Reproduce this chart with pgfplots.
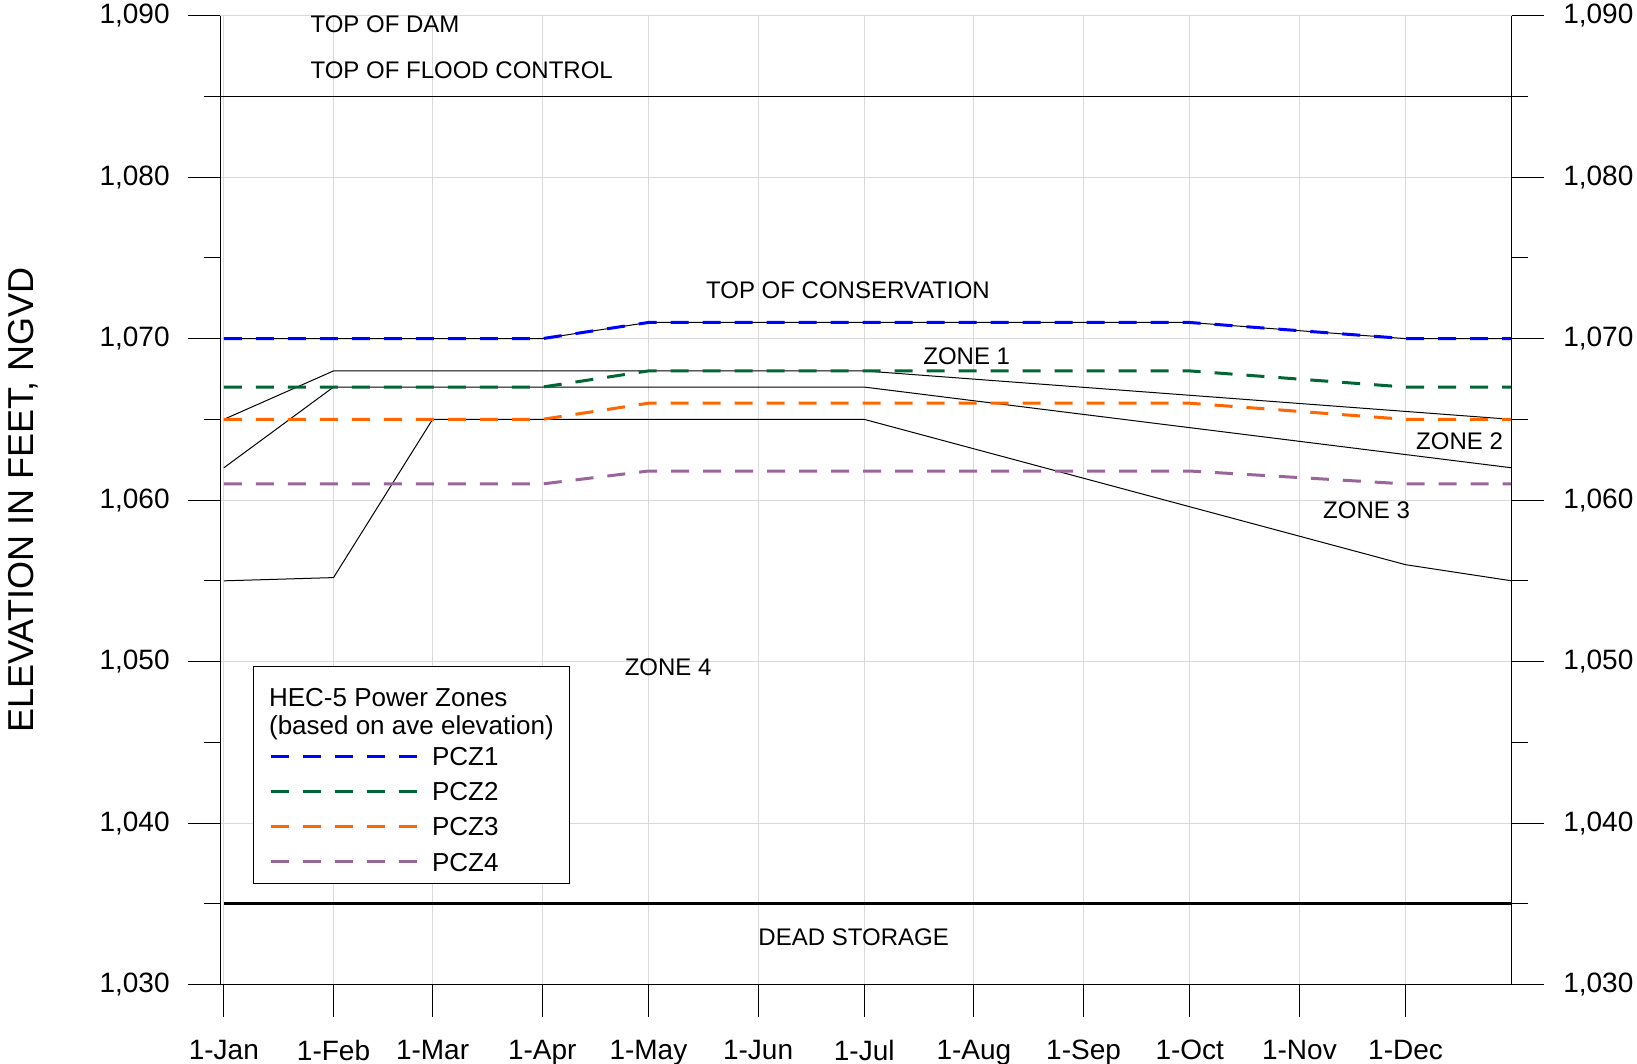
\documentclass[border=0pt]{standalone}
\usepackage{pgfplots}
\pgfplotsset{compat=1.18}
\usepackage{fontspec}
\setmainfont{Liberation Sans}

\definecolor{pczblue}{RGB}{0,0,255}
\definecolor{pczgreen}{RGB}{0,102,51}
\definecolor{pczorange}{RGB}{255,102,0}
\definecolor{pczpurple}{RGB}{153,102,153}
\definecolor{gridgray}{RGB}{217,217,217}

\begin{document}
\begin{tikzpicture}
\useasboundingbox (-110.15pt,-39.75pt) rectangle (708.35pt,492.25pt);
\pgfplotsset{
  elevbase/.style={
    scale only axis, width=645.7pt, height=484.4pt,
    at={(0,0)}, anchor=south west,
    xmin=0, xmax=365, ymin=1030, ymax=1090,
    ytick={1030,1040,...,1090}, minor y tick num=1,
    yticklabels={{1,030},{1,040},{1,050},{1,060},{1,070},{1,080},{1,090}},
    tick align=outside,
    major tick length=16pt, minor tick length=8pt,
    tick style={black, line width=0.5pt},
    axis line style={black, line width=0.5pt},
    tick label style={font=\fontsize{14}{16}\selectfont},
    /pgf/number format/assume math mode=true,
  },
  pcz/.style={line width=1.5pt, dash pattern=on 9pt off 7pt},
  zoneline/.style={black, line width=0.5pt},
}

% main axis: grid, left scale, month ticks, zone lines and power zones
\begin{axis}[elevbase,
  axis x line*=bottom, axis y line*=left,
  xtick={1,32,60,91,121,152,182,213,244,274,305,335},
  xticklabels={1-Jan,1-Feb,1-Mar,1-Apr,1-May,1-Jun,1-Jul,1-Aug,1-Sep,1-Oct,1-Nov,1-Dec},
  grid=major, major grid style={gridgray, line width=0.5pt},
  yticklabel style={anchor=east, inner sep=0pt, xshift=-9.15pt},
  xticklabel style={anchor=north, inner sep=0pt, yshift=-11.6pt},
  ylabel={ELEVATION IN FEET, NGVD},
  every axis y label/.style={at={(axis description cs:-0.15278,0.5)}, anchor=center, rotate=90, font=\fontsize{18}{20}\selectfont},
  legend cell align=left,
  legend image code/.code={\draw[#1] (0pt,0pt) -- (73pt,0pt);},
  legend style={at={(axis description cs:0.02501,0.3288)}, anchor=north west,
    draw=black, line width=0.5pt, fill=white,
    font=\fontsize{13}{15}\selectfont,
    inner xsep=8pt, inner ysep=2pt, row sep=0pt, column sep=7pt,
    nodes={inner sep=0pt, text height=13.45pt, text depth=4.15pt}},
]
% top of flood control
\addplot[zoneline, forget plot] coordinates {(0,1085) (365,1085)};
% top of conservation
\addplot[zoneline, forget plot] coordinates {(1,1070) (91,1070) (121,1071) (274,1071) (335,1070) (365,1070)};
% zone boundaries
\addplot[zoneline, forget plot] coordinates {(1,1065) (32,1068) (182,1068) (365,1065)};
\addplot[zoneline, forget plot] coordinates {(1,1062) (32,1067) (182,1067) (365,1062)};
\addplot[zoneline, forget plot] coordinates {(1,1055) (32,1055.2) (60,1065) (182,1065) (335,1056) (365,1055)};
% dead storage
\addplot[black, line width=1.6pt, forget plot] coordinates {(1,1035) (365,1035)};

\addlegendimage{empty legend}
\addlegendentry[text height=17.8pt, text depth=4pt]{\hspace*{-81.5pt}HEC-5 Power Zones}
\addlegendimage{empty legend}
\addlegendentry[text height=10pt, text depth=2.25pt]{\hspace*{-81.5pt}(based on ave elevation)}

\addplot[pcz, pczblue] coordinates {(1,1070) (91,1070) (121,1071) (274,1071) (335,1070) (365,1070)};
\addlegendentry{PCZ1}
\addplot[pcz, pczgreen] coordinates {(1,1067) (91,1067) (121,1068) (274,1068) (335,1067) (365,1067)};
\addlegendentry{PCZ2}
\addplot[pcz, pczorange] coordinates {(1,1065) (91,1065) (121,1066) (274,1066) (335,1065) (365,1065)};
\addlegendentry{PCZ3}
\addplot[pcz, pczpurple] coordinates {(1,1061) (91,1061) (121,1061.8) (274,1061.8) (335,1061) (365,1061)};
\addlegendentry{PCZ4}

\begin{scope}[every node/.style={anchor=west, inner sep=0pt, font=\fontsize{12}{14}\selectfont}]
\node at (axis cs:25.4,1089.48) {TOP OF DAM};
\node at (axis cs:25.4,1086.64) {TOP OF FLOOD CONTROL};
\node at (axis cs:137.2,1073.0) {TOP OF CONSERVATION};
\node at (axis cs:198.6,1068.93) {ZONE 1};
\node at (axis cs:337.9,1063.63) {ZONE 2};
\node at (axis cs:311.6,1059.36) {ZONE 3};
\node at (axis cs:114.2,1049.66) {ZONE 4};
\node at (axis cs:152.0,1032.92) {DEAD STORAGE};
\end{scope}
\end{axis}

% right-hand elevation scale
\begin{axis}[elevbase,
  axis y line*=right, axis x line=none, xtick=\empty,
  yticklabel style={anchor=west, inner sep=0pt, xshift=9.6pt},
]
\addplot[draw=none, forget plot] coordinates {(0,1030) (365,1090)};
\end{axis}
\end{tikzpicture}
\end{document}
